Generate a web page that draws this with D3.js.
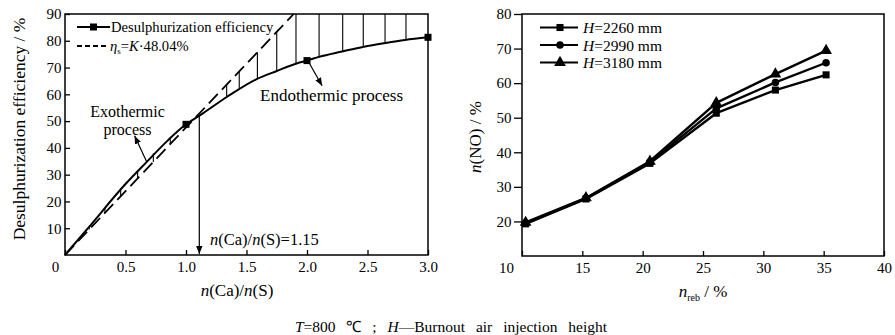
<!DOCTYPE html>
<html><head><meta charset="utf-8">
<script src="https://cdn.jsdelivr.net/npm/d3@7"></script>
<style>
body{margin:0;background:#fff}
svg{display:block}
text{font-family:"Liberation Serif","Times New Roman",serif;fill:#000}
</style>
</head><body><svg id="c" width="895" height="335"></svg>
<script>
// ---------- Left panel data ----------
const ratioK      = [0, 0.19, 0.5, 0.67, 0.85, 1.0, 1.12, 1.34, 1.58, 1.75, 1.92, 2.0, 2.1, 2.29, 2.47, 2.65, 2.81, 3.0];
const effValues   = [0, 10, 26.5, 34.5, 42.8, 48.8, 52.3, 59.1, 65.6, 68.7, 71.6, 72.6, 74.0, 76.0, 77.8, 79.2, 80.3, 81.3];
const effMarkerK  = [1.0, 2.0, 3.0];
const effMarkerV  = [48.8, 72.6, 81.3];
const refLineK    = [0, 1.89];
const refLineV    = [0, 90];
const hatchK      = [0.2, 0.33, 0.46, 0.6, 0.73, 0.87, 1.336, 1.44, 1.59, 1.75, 1.909, 2.10, 2.295, 2.465, 2.645, 2.818];
const hatchFrom   = [10.5, 17.5, 24.5, 31.5, 38, 44, 59.1, 62.4, 65.8, 68.7, 71.5, 74.0, 76.1, 77.8, 79.2, 80.3];
const hatchTo     = [9.5, 15.7, 21.9, 28.6, 34.7, 41.4, 63.6, 68.6, 75.7, 83.3, 90, 90, 90, 90, 90, 90];
const leftXTicks  = [0, 0.5, 1, 1.5, 2, 2.5, 3];
const leftXLabels = ["0", "0.5", "1.0", "1.5", "2.0", "2.5", "3.0"];
const leftYTicks  = [10, 20, 30, 40, 50, 60, 70, 80, 90];
const critK = 1.11, critV = 52.3;

// ---------- Right panel data ----------
const nreb     = [10.3, 15.3, 20.6, 26.1, 31.0, 35.2];
const h2260    = [19.3, 26.5, 36.8, 51.3, 58.0, 62.4];
const h2990    = [19.5, 26.7, 37.1, 52.7, 60.2, 65.9];
const h3180    = [19.7, 26.8, 37.4, 54.3, 62.6, 69.4];
const seriesH  = ["2260", "2990", "3180"];
const rightXTicks = [10, 15, 20, 25, 30, 35, 40];
const rightYTicks = [20, 30, 40, 50, 60, 70, 80];

const svg = d3.select("#c");
const defs = svg.append("defs");
defs.append("marker").attr("id","arr").attr("viewBox","0 0 10 10")
  .attr("refX",10).attr("refY",5).attr("markerWidth",8).attr("markerHeight",8)
  .attr("markerUnits","userSpaceOnUse").attr("orient","auto")
  .append("path").attr("d","M0,1 L10,5 L0,9 z").attr("fill","#000");

// ================= LEFT PANEL =================
const xL = d3.scaleLinear().domain([0,3]).range([65,428]);
const yL = d3.scaleLinear().domain([0,90]).range([255,14]);
const gL = svg.append("g");

// hatch
gL.append("g").selectAll("line").data(hatchK).join("line")
  .attr("x1",d=>xL(d)).attr("x2",d=>xL(d))
  .attr("y1",(d,i)=>yL(hatchFrom[i])).attr("y2",(d,i)=>yL(hatchTo[i]))
  .attr("stroke","#000").attr("stroke-width",1.1);

// reference dashed line
gL.append("path").datum(refLineK.map((k,i)=>[k,refLineV[i]]))
  .attr("d",d3.line().x(d=>xL(d[0])).y(d=>yL(d[1])))
  .attr("fill","none").attr("stroke","#000").attr("stroke-width",1.8)
  .attr("stroke-dasharray","13,6");

// efficiency curve
gL.append("path").datum(ratioK.map((k,i)=>[k,effValues[i]]))
  .attr("d",d3.line().x(d=>xL(d[0])).y(d=>yL(d[1])).curve(d3.curveMonotoneX))
  .attr("fill","none").attr("stroke","#000").attr("stroke-width",2);
gL.append("g").selectAll("rect").data(effMarkerK).join("rect")
  .attr("x",d=>xL(d)-3.5).attr("y",(d,i)=>yL(effMarkerV[i])-3.5)
  .attr("width",7).attr("height",7).attr("fill","#000");

// critical vertical arrow
gL.append("line").attr("x1",xL(critK)).attr("x2",xL(critK))
  .attr("y1",yL(critV)).attr("y2",yL(0)-1).attr("stroke","#000").attr("stroke-width",1.2)
  .attr("marker-end","url(#arr)");
const critT = gL.append("text").attr("x",210).attr("y",245).style("font-size","16.5px");
critT.append("tspan").attr("font-style","italic").text("n");
critT.append("tspan").text("(Ca)/");
critT.append("tspan").attr("font-style","italic").text("n");
critT.append("tspan").text("(S)=1.15");

// annotation arrows
gL.append("line").attr("x1",xL(0.675)).attr("y1",yL(34.8)).attr("x2",xL(0.575)).attr("y2",yL(44.5))
  .attr("stroke","#000").attr("stroke-width",1.2).attr("marker-end","url(#arr)");
gL.append("line").attr("x1",xL(1.997)).attr("y1",yL(73.4)).attr("x2",xL(2.125)).attr("y2",yL(63.2))
  .attr("stroke","#000").attr("stroke-width",1.2).attr("marker-end","url(#arr)");
gL.append("text").attr("x",127.5).attr("y",116.5).attr("text-anchor","middle").style("font-size","16px").text("Exothermic");
gL.append("text").attr("x",127.5).attr("y",134.5).attr("text-anchor","middle").style("font-size","16px").text("process");
gL.append("text").attr("x",260).attr("y",101).style("font-size","17px").text("Endothermic process");

// axes
const axLx = d3.axisBottom(xL).tickValues(leftXTicks).tickSize(-5).tickPadding(6.5)
  .tickFormat((d,i)=>leftXLabels[i]);
const gax = gL.append("g").attr("transform","translate(0,255)").call(axLx);
const axLy = d3.axisLeft(yL).tickValues(leftYTicks).tickSize(-5).tickPadding(3.5);
const gay = gL.append("g").attr("transform","translate(65,0)").call(axLy);
[gax,gay].forEach(g=>{g.select(".domain").remove();
  g.selectAll("text").style("font-size","15px").attr("fill","#000");
  g.selectAll("line").attr("stroke","#000").attr("stroke-width",1.3);});
gax.selectAll(".tick").filter(d=>d===0).select("text").attr("dx",-10);
gL.append("rect").attr("x",65).attr("y",14).attr("width",363).attr("height",241)
  .attr("fill","none").attr("stroke","#000").attr("stroke-width",1.5);

// titles
const xtL = gL.append("text").attr("x",237).attr("y",296).attr("text-anchor","middle").style("font-size","17px");
xtL.append("tspan").attr("font-style","italic").text("n");
xtL.append("tspan").text("(Ca)/");
xtL.append("tspan").attr("font-style","italic").text("n");
xtL.append("tspan").text("(S)");
gL.append("text").attr("transform","translate(25,129) rotate(-90)").attr("text-anchor","middle")
  .style("font-size","17.5px").text("Desulphurization efficiency / %");

// legend
gL.append("line").attr("x1",77).attr("x2",110).attr("y1",27).attr("y2",27).attr("stroke","#000").attr("stroke-width",2);
gL.append("rect").attr("x",90).attr("y",23.5).attr("width",7).attr("height",7).attr("fill","#000");
gL.append("text").attr("x",111).attr("y",32).style("font-size","14.6px").text("Desulphurization efficiency");
gL.append("line").attr("x1",77).attr("x2",106).attr("y1",46).attr("y2",46).attr("stroke","#000").attr("stroke-width",2)
  .attr("stroke-dasharray","5,3");
const lg2 = gL.append("text").attr("x",110).attr("y",51).style("font-size","14.6px");
lg2.append("tspan").attr("font-style","italic").text("η");
lg2.append("tspan").attr("dy",3).style("font-size","9px").text("s");
lg2.append("tspan").attr("dy",-3).text("=");
lg2.append("tspan").attr("font-style","italic").text("K");
lg2.append("tspan").text("·48.04%");

// ================= RIGHT PANEL =================
const xR = d3.scaleLinear().domain([10,40]).range([522,884]);
const yR = d3.scaleLinear().domain([10,80]).range([256,14]);
const gR = svg.append("g");
const seriesVals = [h2260, h2990, h3180];
const symbols = [d3.symbolSquare, d3.symbolCircle, d3.symbolTriangle];
const symSize = [50, 45, 60];
const lineR = d3.line().x(d=>xR(d[0])).y(d=>yR(d[1]));
seriesVals.forEach((vals,si)=>{
  const pts = nreb.map((x,i)=>[x,vals[i]]);
  gR.append("path").datum(pts).attr("d",lineR).attr("fill","none")
    .attr("stroke","#000").attr("stroke-width",2.4).attr("stroke-linejoin","round");
  gR.append("g").selectAll("path").data(pts).join("path")
    .attr("transform",d=>`translate(${xR(d[0])},${yR(d[1])})`)
    .attr("d",d3.symbol().type(symbols[si]).size(symSize[si])).attr("fill","#000");
});

const axRx = d3.axisBottom(xR).tickValues(rightXTicks).tickSize(-5).tickPadding(6.5).tickFormat(d3.format("d"));
const grx = gR.append("g").attr("transform","translate(0,256)").call(axRx);
const axRy = d3.axisLeft(yR).tickValues(rightYTicks).tickSize(8).tickPadding(2.5).tickFormat(d3.format("d"));
const gry = gR.append("g").attr("transform","translate(522,0)").call(axRy);
[grx,gry].forEach(g=>{g.select(".domain").remove();
  g.selectAll("text").style("font-size","15px").attr("fill","#000");
  g.selectAll("line").attr("stroke","#000").attr("stroke-width",1.3);});
grx.selectAll(".tick").filter(d=>d===10).select("text").attr("dx",-16);
gR.append("rect").attr("x",522).attr("y",14).attr("width",362).attr("height",242)
  .attr("fill","none").attr("stroke","#000").attr("stroke-width",1.5);

// titles
const xtR = gR.append("text").attr("x",703).attr("y",297).attr("text-anchor","middle").style("font-size","17px");
xtR.append("tspan").attr("font-style","italic").text("n");
xtR.append("tspan").attr("dy",4).style("font-size","10px").text("reb");
xtR.append("tspan").attr("dy",-4).text(" / %");
const ytR = gR.append("text").attr("transform","translate(481,137) rotate(-90)").attr("text-anchor","middle").style("font-size","17px");
ytR.append("tspan").attr("font-style","italic").text("n");
ytR.append("tspan").text("(NO) / %");

// legend
const legY = [27.5, 45, 62.5];
seriesH.forEach((h,i)=>{
  gR.append("line").attr("x1",540).attr("x2",578).attr("y1",legY[i]).attr("y2",legY[i])
    .attr("stroke","#000").attr("stroke-width",2);
  gR.append("path").attr("transform",`translate(560,${legY[i]})`)
    .attr("d",d3.symbol().type(symbols[i]).size(symSize[i])).attr("fill","#000");
  const t = gR.append("text").attr("x",583).attr("y",legY[i]+5.5).style("font-size","15.5px");
  t.append("tspan").attr("font-style","italic").text("H");
  t.append("tspan").text("=" + h + " mm");
});

// caption
const cap = svg.append("text").attr("x",451).attr("y",332).attr("text-anchor","middle")
  .style("font-size","15.5px").style("word-spacing","7px");
cap.append("tspan").attr("font-style","italic").text("T");
cap.append("tspan").text("=800 ℃ ; ");
cap.append("tspan").attr("font-style","italic").text("H");
cap.append("tspan").text("—Burnout air injection height");
</script></body></html>
